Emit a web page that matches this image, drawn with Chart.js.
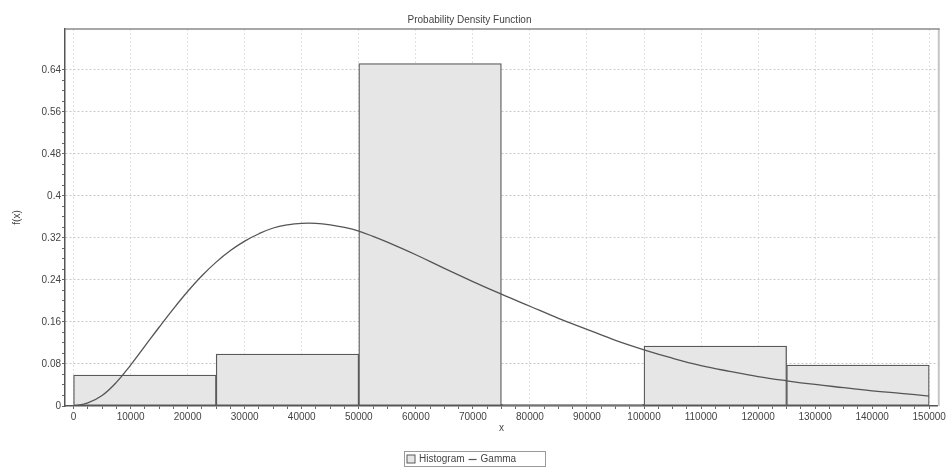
<!DOCTYPE html>
<html>
<head>
<meta charset="utf-8">
<title>Probability Density Function</title>
<script src="https://cdn.jsdelivr.net/npm/chart.js@4.4.1/dist/chart.umd.min.js"></script>
<style>
  html, body { margin: 0; padding: 0; background: #ffffff; }
  canvas { display: block; }
</style>
</head>
<body>
<canvas id="pdf" width="948" height="468"></canvas>
<script>
// Histogram: bin edges and relative frequency of each bin
const binEdges = [0, 25000, 50000, 75000, 100000, 125000, 150000];
const binHeights = [0.059, 0.099, 0.652, 0.003, 0.114, 0.078];

// Fitted Gamma density sampled along x
const gammaX = [0, 2500, 5000, 7500, 10000, 12500, 15000, 17500, 20000, 22500,
  25000, 27500, 30000, 32500, 35000, 37500, 40000, 42500, 45000, 47500,
  50000, 52500, 55000, 60000, 65000, 70000, 75000, 80000, 85000, 90000, 95000,
  100000, 105000, 110000, 115000, 120000, 125000, 130000, 135000, 140000, 145000, 150000];
const gammaY = [0, 0.006, 0.020, 0.045, 0.078, 0.114, 0.150, 0.185, 0.218, 0.248,
  0.274, 0.296, 0.314, 0.328, 0.339, 0.345, 0.348, 0.348, 0.345, 0.340,
  0.333, 0.323, 0.312, 0.288, 0.262, 0.237, 0.213, 0.190, 0.167, 0.146, 0.125,
  0.107, 0.091, 0.077, 0.066, 0.056, 0.048, 0.041, 0.035, 0.029, 0.024, 0.019];

// Labelled axis ticks
const xTickValues = [0, 10000, 20000, 30000, 40000, 50000, 60000, 70000, 80000,
  90000, 100000, 110000, 120000, 130000, 140000, 150000];
const yTickValues = [0, 0.08, 0.16, 0.24, 0.32, 0.4, 0.48, 0.56, 0.64];

const seriesNames = ['Histogram', 'Gamma'];

const FONT = "'Liberation Sans', Arial, sans-serif";
const TEXT = '#444444';

const histData = binHeights.map((h, i) => ({ x: (binEdges[i] + binEdges[i + 1]) / 2, y: h }));
const gammaData = gammaX.map((x, i) => ({ x: x, y: gammaY[i] }));

const isLabelled = (list, v) => list.some(t => Math.abs(t - v) < 1e-9);
const fmt = v => String(parseFloat(v.toFixed(2)));

// Top and right edges of the plot frame
const frame = {
  id: 'frame',
  afterDraw(chart) {
    const { ctx, chartArea: a } = chart;
    ctx.save();
    ctx.strokeStyle = '#c4c4c4';
    ctx.lineWidth = 2;
    ctx.beginPath();
    ctx.moveTo(a.right + 1, a.top);
    ctx.lineTo(a.right + 1, a.bottom);
    ctx.stroke();
    ctx.strokeStyle = '#8a8a8a';
    ctx.lineWidth = 1.5;
    ctx.beginPath();
    ctx.moveTo(a.left, a.top);
    ctx.lineTo(a.right + 2, a.top);
    ctx.stroke();
    ctx.restore();
  }
};

// Boxed legend below the axis
const boxedLegend = {
  id: 'boxedLegend',
  afterDraw(chart) {
    const { ctx } = chart;
    const hist = chart.data.datasets[0];
    const gam = chart.data.datasets[1];
    const boxW = 141, boxH = 15;
    const left = Math.round(chart.width / 2 - boxW / 2) + 0.5;
    const top = 451.5;
    const cy = top + boxH / 2;
    ctx.save();
    ctx.strokeStyle = '#9a9a9a';
    ctx.lineWidth = 1;
    ctx.strokeRect(left, top, boxW, boxH);
    ctx.font = '10px ' + FONT;
    ctx.textBaseline = 'middle';
    let x = left + 2.5;
    // histogram swatch
    ctx.fillStyle = hist.backgroundColor;
    ctx.fillRect(x, cy - 4, 8, 8);
    ctx.strokeStyle = hist.borderColor;
    ctx.lineWidth = 1;
    ctx.strokeRect(x, cy - 4, 8, 8);
    x += 12;
    ctx.fillStyle = TEXT;
    ctx.fillText(seriesNames[0], x, cy + 0.5);
    x += ctx.measureText(seriesNames[0]).width + 4;
    // gamma line swatch
    ctx.strokeStyle = gam.borderColor;
    ctx.lineWidth = 1.2;
    ctx.beginPath();
    ctx.moveTo(x, cy + 0.5);
    ctx.lineTo(x + 8, cy + 0.5);
    ctx.stroke();
    x += 12;
    ctx.fillText(seriesNames[1], x, cy + 0.5);
    ctx.restore();
  }
};

new Chart(document.getElementById('pdf'), {
  type: 'bar',
  data: {
    datasets: [
      {
        type: 'bar',
        label: seriesNames[0],
        data: histData,
        backgroundColor: '#e6e6e6',
        borderColor: '#5a5a5a',
        borderWidth: 1.3,
        borderSkipped: false,
        barThickness: 'flex',
        barPercentage: 1,
        categoryPercentage: 1,
        order: 2
      },
      {
        type: 'line',
        label: seriesNames[1],
        data: gammaData,
        borderColor: '#555555',
        borderWidth: 1.3,
        pointRadius: 0,
        fill: false,
        tension: 0.4,
        cubicInterpolationMode: 'default',
        order: 1
      }
    ]
  },
  options: {
    responsive: false,
    animation: false,
    devicePixelRatio: 1,
    layout: { padding: { left: 0, right: 9, top: 0, bottom: 26 } },
    plugins: {
      legend: { display: false },
      tooltip: { enabled: false },
      title: {
        display: true,
        text: 'Probability Density Function',
        color: TEXT,
        font: { family: FONT, size: 10, weight: 'normal' },
        padding: { top: 14, bottom: 3 }
      }
    },
    scales: {
      x: {
        type: 'linear',
        min: -1500,
        max: 151500,
        offset: false,
        afterFit(scale) { scale.height = 36; },
        afterBuildTicks(scale) {
          const t = [];
          for (let v = 0; v <= 150000; v += 2500) t.push({ value: v });
          scale.ticks = t;
        },
        ticks: {
          autoSkip: false,
          maxRotation: 0,
          padding: 2,
          color: TEXT,
          font: { family: FONT, size: 10 },
          callback: v => (isLabelled(xTickValues, v) ? String(v) : '')
        },
        grid: {
          offset: false,
          color: c => (c.tick && isLabelled(xTickValues, c.tick.value) ? '#e2e2e2' : 'rgba(0,0,0,0)'),
          tickColor: '#666666',
          tickLength: 3,
          lineWidth: 1
        },
        border: { display: true, color: '#555555', width: 1.5, dash: [2, 2] },
        title: {
          display: true,
          text: 'x',
          color: TEXT,
          font: { family: FONT, size: 10 },
          padding: { top: 2, bottom: 8 }
        }
      },
      y: {
        type: 'linear',
        min: 0,
        max: 0.718,
        afterFit(scale) { scale.width = 65; },
        afterBuildTicks(scale) {
          const t = [];
          for (let i = 0; i <= 32; i++) t.push({ value: parseFloat((i * 0.02).toFixed(2)) });
          scale.ticks = t;
        },
        ticks: {
          autoSkip: false,
          padding: 1,
          color: TEXT,
          font: { family: FONT, size: 10 },
          callback: v => (isLabelled(yTickValues, v) ? fmt(v) : '')
        },
        grid: {
          color: c => (c.tick && isLabelled(yTickValues, c.tick.value) && c.tick.value > 0 ? '#c8c8c8' : 'rgba(0,0,0,0)'),
          tickColor: '#666666',
          tickLength: 3,
          lineWidth: 1
        },
        border: { display: true, color: '#555555', width: 1.5, dash: [2, 2] },
        title: {
          display: true,
          text: 'f(x)',
          color: TEXT,
          font: { family: FONT, size: 10 },
          padding: { top: 11, bottom: 2 }
        }
      }
    }
  },
  plugins: [frame, boxedLegend]
});
</script>
</body>
</html>
